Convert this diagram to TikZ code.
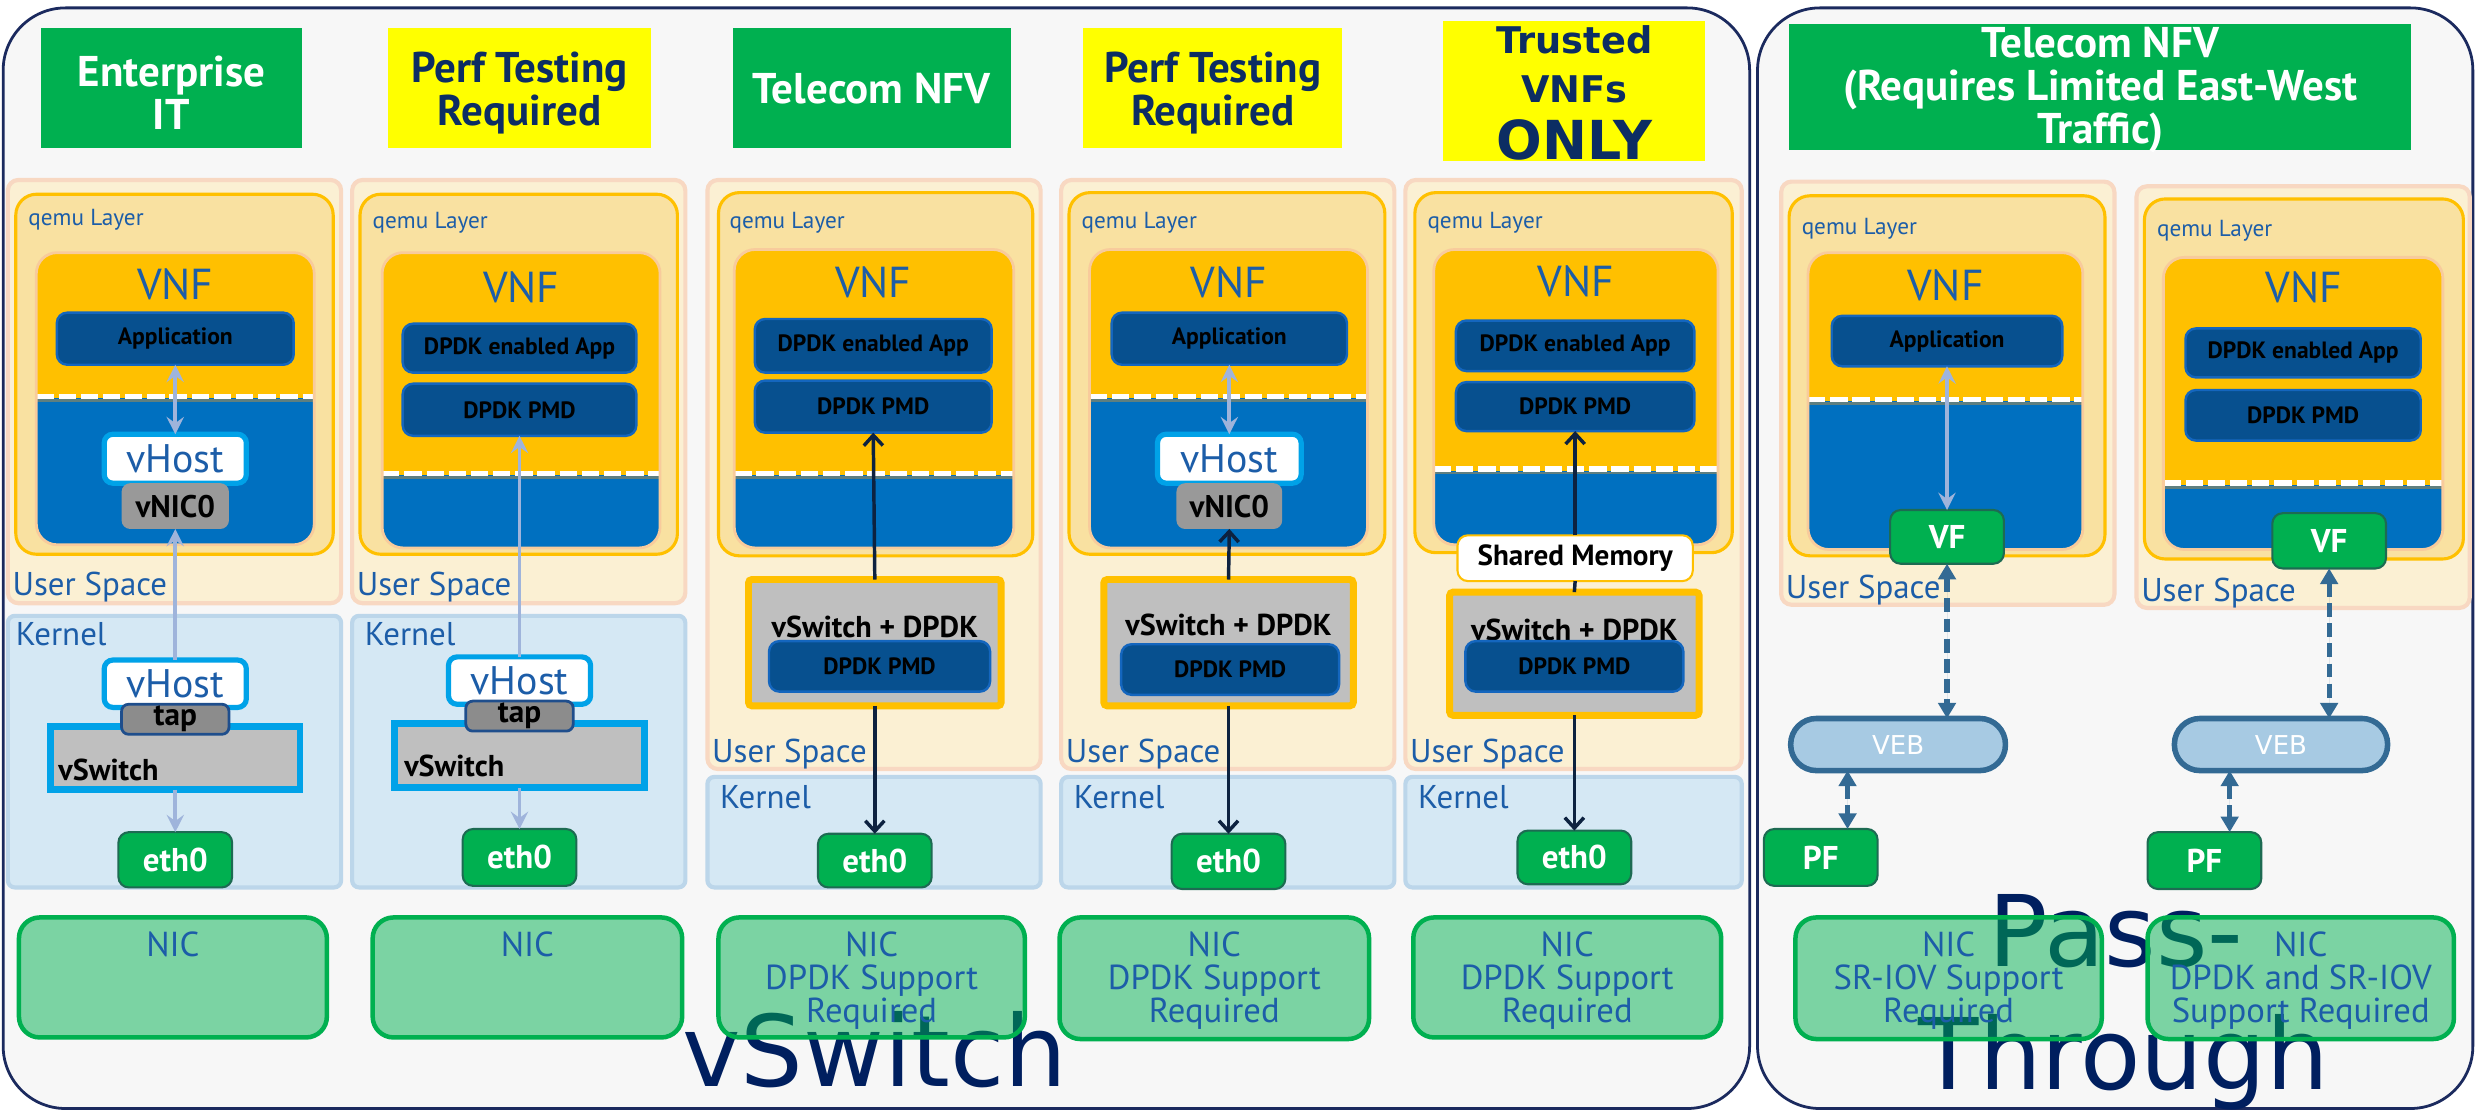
\documentclass[tikz,border=0pt]{standalone}
\usepackage{fontspec}
\setmainfont{PT Sans}
\newfontfamily\djv{DejaVu Sans}
\usetikzlibrary{arrows.meta}

\definecolor{panelbg}{HTML}{F7F7F7}
\definecolor{panelln}{HTML}{1B2A5E}
\definecolor{tgreen}{HTML}{00B050}
\definecolor{tyellow}{HTML}{FFFF00}
\definecolor{tnavy}{HTML}{0C2D63}
\definecolor{usbg}{HTML}{FBF0D3}
\definecolor{usln}{HTML}{F8D8C2}
\definecolor{qbg}{HTML}{F9E1A1}
\definecolor{qln}{HTML}{FFC000}
\definecolor{vnftop}{HTML}{FFC000}
\definecolor{vnfbot}{HTML}{0070C0}
\definecolor{vnfln}{HTML}{F8CB9C}
\definecolor{splitdk}{HTML}{5E7F80}
\definecolor{appbg}{HTML}{07508F}
\definecolor{appln}{HTML}{1466BE}
\definecolor{kbg}{HTML}{D5E8F4}
\definecolor{kln}{HTML}{BCD6EA}
\definecolor{tblue}{HTML}{1C5DA8}
\definecolor{vhln}{HTML}{00A2E8}
\definecolor{tapbg}{HTML}{8C8C8C}
\definecolor{tapln}{HTML}{1F4E8C}
\definecolor{vnicbg}{HTML}{999999}
\definecolor{vswbg}{HTML}{BFBFBF}
\definecolor{ethln}{HTML}{1D6B52}
\definecolor{larr}{HTML}{9FB4DB}
\definecolor{narr}{HTML}{0D2240}
\definecolor{vebbg}{HTML}{A7CAE3}
\definecolor{vebln}{HTML}{336A94}
\definecolor{bignavy}{HTML}{001F5F}

\tikzset{
  panel/.style={draw=panelln, line width=0.8pt, fill=panelbg, rounded corners=18pt},
  ttl/.style={font=\bfseries\fontsize{12.4}{12.4}\selectfont, align=center},
  tgrn/.style={ttl, fill=tgreen, text=white},
  tyel/.style={ttl, fill=tyellow, text=tnavy},
  usbox/.style={draw=usln, fill=usbg, line width=1.2pt, rounded corners=3pt},
  qemubox/.style={draw=qln, fill=qbg, line width=0.9pt, rounded corners=6pt},
  kbox/.style={draw=kln, fill=kbg, line width=1.2pt, rounded corners=2pt},
  vnfbox/.style={fill=vnfbot, rounded corners=6pt},
  appbox/.style={draw=appln, fill=appbg, line width=0.7pt, rounded corners=3pt,
    font=\bfseries\fontsize{6.8}{8}\selectfont, text=black},
  vhostbox/.style={draw=vhln, fill=white, line width=1.5pt, rounded corners=2.5pt,
    font=\fontsize{11.5}{12}\selectfont, text=tblue},
  vnicbox/.style={fill=vnicbg, rounded corners=2.5pt, font=\bfseries\fontsize{9}{10}\selectfont},
  tapbox/.style={draw=tapln, fill=tapbg, line width=0.8pt, rounded corners=2pt,
    font=\bfseries\fontsize{9}{10}\selectfont},
  vswbox/.style={draw=vhln, fill=vswbg, line width=2pt},
  vsdbox/.style={draw=qln, fill=vswbg, line width=2pt, rounded corners=1pt},
  ethbox/.style={draw=ethln, fill=tgreen, line width=0.6pt, rounded corners=3pt, text=white,
    font=\bfseries\fontsize{9.5}{10}\selectfont},
  nicbox/.style={draw=tgreen, line width=1.3pt, fill=tgreen, fill opacity=0.5, rounded corners=6pt},
  nictxt/.style={text=tblue, align=center, font=\fontsize{10}{9.6}\selectfont},
  vebbox/.style={draw=vebln, fill=vebbg, line width=1.6pt, rounded corners=7.4pt, text=white,
    font=\djv\fontsize{7.5}{8}\selectfont},
  shmbox/.style={draw=qln, fill=white, line width=0.6pt, rounded corners=3pt,
    font=\bfseries\fontsize{8.4}{9}\selectfont},
  qlbl/.style={text=tblue, font=\fontsize{6.7}{7}\selectfont},
  vnflbl/.style={text=tblue, font=\fontsize{12.5}{13}\selectfont},
  splbl/.style={text=tblue, font=\fontsize{9.5}{10}\selectfont},
  blbl/.style={font=\bfseries\fontsize{8.7}{9}\selectfont},
  bigtxt/.style={text=bignavy, font=\djv\fontsize{28.5}{34}\selectfont},
  lt/.tip={Stealth[length=5pt,width=5pt,inset=1.8pt]},
  nt/.tip={Straight Barb[length=3pt,width=5.5pt,line width=1pt]},
  dt/.tip={Triangle[length=4.5pt,width=5pt]},
  lightarr/.style={draw=larr, line width=1.1pt},
  navyarr/.style={draw=narr, line width=1pt},
  dasharr/.style={draw=vebln, fill=vebln, line width=1.5pt, dash pattern=on 4pt off 1.8pt},
}

% box from its corners (x1,y1) to (x2,y2), y measured downwards
\newcommand\bx[7]{\node[#2, minimum width={(#5-#3)*0.016cm}, minimum height={(#6-#4)*0.016cm}] (#1) at ({(#3+#5)/2},{-(#4+#6)/2}) {#7};}

% VNF block: orange upper part, blue lower part, dashed boundary at #6
\newcommand\vnf[6]{%
  \node[vnfbox, minimum width={(#4-#2)*0.016cm}, minimum height={(#5-#3)*0.016cm}] (#1) at ({(#2+#4)/2},{-(#3+#5)/2}) {};
  \begin{scope}
    \clip[rounded corners=6pt] (#2,-#3) rectangle (#4,-#5);
    \fill[vnftop] (#2,-#3) rectangle (#4,{-(#6+1)});
  \end{scope}
  \draw[splitdk, line width=0.8pt] (#2,{-(#6+2.6)}) -- (#4,{-(#6+2.6)});
  \draw[white, line width=1.6pt, dash pattern=on 5pt off 1.4pt] (#2,-#6) -- (#4,-#6);
  \draw[vnfln, line width=0.8pt, rounded corners=6pt] (#2,-#3) rectangle (#4,-#5);
}

\begin{document}
\begin{tikzpicture}[x=0.016cm, y=0.016cm, every node/.style={inner sep=0pt, outer sep=0pt}]
\fill[white] (0,0) rectangle (1568,-704);
\useasboundingbox (0,0) rectangle (1568,-704);

% the two groups
\bx{grpA}{panel}{2}{5}{1108}{702}{}
\bx{grpB}{panel}{1113}{5}{1566}{702}{}

% group captions
\node[bigtxt, anchor=base west] (capA) at (432,-688) {vSwitch};
\node[bigtxt, anchor=base] (capB1) at (1340,-612) {Pass-};
\node[bigtxt, anchor=base] (capB2) at (1345,-690) {Through};

% headings
\bx{h1}{tgrn}{26}{18}{191}{94}{}
\node[ttl, text=white] (h1t) at (108.5,-59) {Enterprise\\IT};
\bx{h2}{tyel}{246}{18}{412}{94}{}
\node[ttl, text=tnavy] (h2t) at (329,-59) {Perf Testing\\Required};
\bx{h3}{tgrn}{464}{18}{640}{94}{Telecom NFV}
\bx{h4}{tyel}{686}{18}{850}{94}{}
\node[ttl, text=tnavy] (h4t) at (768,-59) {Perf Testing\\Required};
\node[fill=tyellow, minimum width={166*0.016cm}, minimum height={89*0.016cm}] (h5) at (997,-57.5) {};
\node[text=tnavy, align=center, font=\djv\bfseries\fontsize{10.6}{14}\selectfont] (h5t) at (997,-59) {Trusted\\VNFs\\[2.5pt]{\fontsize{15.5}{16}\selectfont ONLY}};
\bx{h6}{tgrn}{1133}{15}{1527}{95}{}
\node[ttl, text=white] (h6t) at (1330,-57) {Telecom NFV\\(Requires Limited East-West\\Traffic)};

% ---------- column 1: kernel vSwitch, plain application
\bx{us1}{usbox}{5}{114}{216}{382}{}
\bx{q1}{qemubox}{10}{123}{211}{351}{}
\node[qlbl, anchor=west] (q1t) at (18,-139) {qemu Layer};
\vnf{vnf1}{23}{160}{199}{345}{251}
\node[vnflbl] (vnf1t) at (111,-180) {VNF};
\bx{app1}{appbox}{36}{198}{186}{231}{Application}
\bx{vh1}{vhostbox}{66}{275}{156}{306}{vHost}
\bx{vn1}{vnicbox}{77}{306}{145}{335}{vNIC0}
\node[splbl, anchor=base west] (us1t) at (8,-377) {User Space};
\bx{k1}{kbox}{5}{390}{216}{562}{}
\node[splbl, anchor=base west] (k1t) at (10,-409) {Kernel};
\bx{vs1}{vswbox}{32}{460}{190}{500}{}
\node[blbl, anchor=base west] (vs1t) at (37,-494) {vSwitch};
\bx{kvh1}{vhostbox}{66}{418}{156}{448}{vHost}
\bx{tap1}{tapbox}{77}{446}{145}{465}{tap}
\bx{eth1}{ethbox}{75}{527}{147}{562}{eth0}

% ---------- column 2: kernel vSwitch, DPDK application
\bx{us2}{usbox}{223}{114}{434}{382}{}
\bx{q2}{qemubox}{228}{123}{429}{351}{}
\node[qlbl, anchor=west] (q2t) at (236,-141) {qemu Layer};
\vnf{vnf2}{242}{160}{418}{347}{300}
\node[vnflbl] (vnf2t) at (330,-182) {VNF};
\bx{dapp2}{appbox}{255}{205}{403}{236}{DPDK enabled App}
\bx{pmd2}{appbox}{255}{243}{403}{276}{DPDK PMD}
\node[splbl, anchor=base west] (us2t) at (226,-377) {User Space};
\bx{k2}{kbox}{223}{390}{434}{562}{}
\node[splbl, anchor=base west] (k2t) at (231,-409) {Kernel};
\bx{vs2}{vswbox}{250}{458}{408}{499}{}
\node[blbl, anchor=base west] (vs2t) at (256,-492) {vSwitch};
\bx{kvh2}{vhostbox}{284}{416}{374}{446}{vHost}
\bx{tap2}{tapbox}{295}{444}{363}{463}{tap}
\bx{eth2}{ethbox}{293}{525}{365}{561}{eth0}

% ---------- column 3: user-space vSwitch + DPDK, DPDK application
\bx{us3}{usbox}{448}{114}{659}{487}{}
\bx{q3}{qemubox}{455}{122}{654}{352}{}
\node[qlbl, anchor=west] (q3t) at (462,-141) {qemu Layer};
\vnf{vnf3}{465}{158}{642}{347}{300}
\node[vnflbl] (vnf3t) at (553,-179) {VNF};
\bx{dapp3}{appbox}{478}{202}{628}{236}{DPDK enabled App}
\bx{pmd3}{appbox}{478}{241}{628}{274}{DPDK PMD}
\bx{vsd3}{vsdbox}{474}{367}{634}{447}{}
\node[blbl] (vsd3t) at (554,-397) {vSwitch + DPDK};
\bx{vpmd3}{appbox}{487}{406}{627}{438}{DPDK PMD}
\node[splbl, anchor=base west] (us3t) at (451,-483) {User Space};
\bx{k3}{kbox}{448}{492}{659}{562}{}
\node[splbl, anchor=base west] (k3t) at (456,-512) {Kernel};
\bx{eth3}{ethbox}{518}{528}{590}{562}{eth0}

% ---------- column 4: user-space vSwitch + DPDK, plain application
\bx{us4}{usbox}{672}{114}{883}{487}{}
\bx{q4}{qemubox}{677}{122}{877}{351}{}
\node[qlbl, anchor=west] (q4t) at (685,-141) {qemu Layer};
\vnf{vnf4}{690}{158}{866}{347}{251}
\node[vnflbl] (vnf4t) at (778,-179) {VNF};
\bx{app4}{appbox}{704}{198}{853}{231}{Application}
\bx{vh4}{vhostbox}{733}{275}{824}{306}{vHost}
\bx{vn4}{vnicbox}{745}{306}{812}{335}{vNIC0}
\bx{vsd4}{vsdbox}{699}{367}{857}{447}{}
\node[blbl] (vsd4t) at (778,-396) {vSwitch + DPDK};
\bx{vpmd4}{appbox}{710}{408}{848}{440}{DPDK PMD}
\node[splbl, anchor=base west] (us4t) at (675,-483) {User Space};
\bx{k4}{kbox}{672}{492}{883}{562}{}
\node[splbl, anchor=base west] (k4t) at (680,-512) {Kernel};
\bx{eth4}{ethbox}{742}{528}{814}{563}{eth0}

% ---------- column 5: shared memory path
\bx{us5}{usbox}{890}{114}{1103}{487}{}
\bx{q5}{qemubox}{896}{122}{1097}{350}{}
\node[qlbl, anchor=west] (q5t) at (904,-141) {qemu Layer};
\vnf{vnf5}{908}{158}{1088}{345}{297}
\node[vnflbl] (vnf5t) at (998,-178) {VNF};
\bx{dapp5}{appbox}{922}{203}{1073}{235}{DPDK enabled App}
\bx{pmd5}{appbox}{922}{242}{1073}{273}{DPDK PMD}
\bx{shm5}{shmbox}{923}{339}{1072}{368}{Shared Memory}
\bx{vsd5}{vsdbox}{918}{375}{1076}{453}{}
\node[blbl] (vsd5t) at (997,-399) {vSwitch + DPDK};
\bx{vpmd5}{appbox}{928}{406}{1066}{438}{DPDK PMD}
\node[splbl, anchor=base west] (us5t) at (893,-483) {User Space};
\bx{k5}{kbox}{890}{492}{1103}{562}{}
\node[splbl, anchor=base west] (k5t) at (898,-512) {Kernel};
\bx{eth5}{ethbox}{961}{526}{1033}{560}{eth0}

% ---------- column 6: SR-IOV, plain application
\bx{us6}{usbox}{1128}{115}{1339}{383}{}
\bx{q6}{qemubox}{1133}{124}{1333}{352}{}
\node[qlbl, anchor=west] (q6t) at (1141,-145) {qemu Layer};
\vnf{vnf6}{1145}{160}{1319}{348}{253}
\node[vnflbl] (vnf6t) at (1232,-181) {VNF};
\bx{app6}{appbox}{1160}{200}{1306}{232}{Application}
\bx{vf6}{ethbox}{1197}{323}{1269}{357}{VF}
\node[splbl, anchor=base west] (us6t) at (1131,-379) {User Space};
\bx{veb6}{vebbox}{1134}{455}{1270}{488}{VEB}
\bx{pf6}{ethbox}{1117}{525}{1189}{561}{PF}
\coordinate (x6) at (1170,0);

% ---------- column 7: SR-IOV, DPDK application
\bx{us7}{usbox}{1353}{118}{1564}{385}{}
\bx{q7}{qemubox}{1358}{126}{1560}{354}{}
\node[qlbl, anchor=west] (q7t) at (1366,-146) {qemu Layer};
\vnf{vnf7}{1370}{163}{1547}{348}{306}
\node[vnflbl] (vnf7t) at (1459,-182) {VNF};
\bx{dapp7}{appbox}{1384}{208}{1533}{239}{DPDK enabled App}
\bx{pmd7}{appbox}{1384}{247}{1533}{279}{DPDK PMD}
\bx{vf7}{ethbox}{1439}{325}{1511}{360}{VF}
\node[splbl, anchor=base west] (us7t) at (1356,-381) {User Space};
\bx{veb7}{vebbox}{1377}{455}{1512}{488}{VEB}
\bx{pf7}{ethbox}{1360}{527}{1432}{563}{PF}
\coordinate (x7) at (1412,0);

% ---------- NICs
\bx{nic1}{nicbox}{12}{581}{207}{657}{}
\bx{nic2}{nicbox}{236}{581}{432}{657}{}
\bx{nic3}{nicbox}{455}{581}{649}{657}{}
\bx{nic4}{nicbox}{671}{581}{867}{658}{}
\bx{nic5}{nicbox}{895}{581}{1090}{657}{}
\bx{nic6}{nicbox}{1137}{581}{1331}{658}{}
\bx{nic7}{nicbox}{1360}{581}{1554}{658}{}
\node[nictxt, anchor=north] (nic1t) at ([yshift=-4pt]nic1.north) {NIC};
\node[nictxt, anchor=north] (nic2t) at ([yshift=-4pt]nic2.north) {NIC};
\node[nictxt, anchor=north] (nic3t) at ([yshift=-4pt]nic3.north) {NIC\\DPDK Support\\Required};
\node[nictxt, anchor=north] (nic4t) at ([yshift=-4pt]nic4.north) {NIC\\DPDK Support\\Required};
\node[nictxt, anchor=north] (nic5t) at ([yshift=-4pt]nic5.north) {NIC\\DPDK Support\\Required};
\node[nictxt, anchor=north] (nic6t) at ([yshift=-4pt]nic6.north) {NIC\\SR-IOV Support\\Required};
\node[nictxt, anchor=north] (nic7t) at ([yshift=-4pt]nic7.north) {NIC\\DPDK and SR-IOV\\Support Required};

% ---------- data paths
\draw[lightarr, lt-lt] (app1.south) -- (vh1.north);
\draw[lightarr, -lt] (kvh1.north) -- (vn1.south);
\draw[lightarr, -lt] (vs1.south) -- (eth1.north);

\draw[lightarr, -lt] (kvh2.north) -- (pmd2.south);
\draw[lightarr, -lt] (vs2.south) -- (eth2.north);

\draw[navyarr, -nt] (vsd3.north) -- (pmd3.south);
\draw[navyarr, -nt] (vsd3.south) -- (eth3.north);

\draw[lightarr, lt-lt] (app4.south) -- (vh4.north);
\draw[navyarr, -nt] (vsd4.north) -- (vn4.south);
\draw[navyarr, -nt] (vsd4.south) -- (eth4.north);

\draw[navyarr, -nt] (shm5.north) -- (pmd5.south);
\draw[navyarr] (vsd5.north) -- (shm5.south);
\draw[navyarr, -nt] (vsd5.south) -- (eth5.north);

\draw[lightarr, lt-lt] (app6.south) -- (vf6.north);
\draw[dasharr, dt-dt] (vf6.south) -- (veb6.north -| vf6.south);
\draw[dasharr, dt-dt] (veb6.south -| x6) -- (pf6.north -| x6);

\draw[dasharr, dt-dt] (vf7.south) -- (veb7.north -| vf7.south);
\draw[dasharr, dt-dt] (veb7.south -| x7) -- (pf7.north -| x7);
\end{tikzpicture}
\end{document}
